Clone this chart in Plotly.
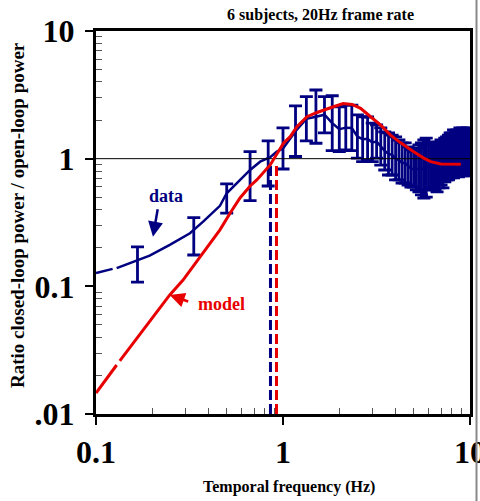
import plotly.graph_objects as go

# ---------------- data ----------------
# error-bar frequencies: k/6 Hz, k = 1..60
data_freq = [k / 6 for k in range(1, 61)]
data_hi = [0.204, 0.345, 0.634, 1.135, 1.38, 1.74, 2.59, 3.06, 3.45, 3.06,
           3.11, 2.55, 2.63, 2.63, 2.20, 2.13, 2.12, 1.90, 1.84, 1.74,
           1.62, 1.59, 1.53, 1.48, 1.40, 1.33, 1.33, 1.235, 1.17, 1.13,
           1.21, 1.28, 1.33, 1.40, 1.45, 1.35, 1.28, 1.33, 1.35, 1.28,
           1.35, 1.40, 1.35, 1.45, 1.48, 1.53, 1.59, 1.59, 1.68, 1.62,
           1.68, 1.65, 1.74, 1.68, 1.74, 1.70, 1.65, 1.74, 1.68, 1.70]
data_lo = [0.108, 0.176, 0.374, 0.469, 0.611, 0.83, 1.04, 1.38, 1.32, 1.59,
           1.155, 1.135, 1.17, 1.155, 1.01, 0.947, 0.97, 0.947, 1.01, 0.89,
           0.815, 0.745, 0.745, 0.681, 0.681, 0.645, 0.645, 0.622, 0.60, 0.60,
           0.569, 0.549, 0.52, 0.492, 0.50, 0.569, 0.569, 0.59, 0.569, 0.549,
           0.59, 0.622, 0.59, 0.657, 0.681, 0.681, 0.706, 0.719, 0.706, 0.732,
           0.745, 0.719, 0.759, 0.787, 0.732, 0.77, 0.745, 0.787, 0.732, 0.759]
data_mean = [0.148, 0.246, 0.487, 0.73, 0.918, 1.20, 1.64, 2.05, 2.13, 2.21,
             1.90, 1.70, 1.75, 1.74, 1.49, 1.42, 1.43, 1.34, 1.36, 1.24,
             1.15, 1.09, 1.07, 1.00, 0.976, 0.926, 0.926, 0.876, 0.838, 0.823,
             0.83, 0.838, 0.832, 0.83, 0.851, 0.876, 0.853, 0.886, 0.876, 0.838,
             0.892, 0.933, 0.892, 0.976, 1.00, 1.02, 1.06, 1.07, 1.09, 1.09,
             1.12, 1.09, 1.15, 1.15, 1.13, 1.14, 1.11, 1.17, 1.11, 1.14]

# smooth low-frequency part of the data curve (None = break in the line)
line_low_x = [0.1, 0.1227, None, 0.129, 0.1675, 0.1936, 0.248, 0.318, 0.374,
              0.46, 0.50, 0.542, 0.667, 0.755, 0.854, 0.927]
line_low_y = [0.127, 0.137, None, 0.139, 0.161, 0.174, 0.211, 0.2605, 0.321,
              0.427, 0.536, 0.604, 0.816, 0.947, 1.026, 1.135]

model_x = [0.1, 0.129, None, 0.134, 0.248, 0.292, 0.46, 0.521, 0.589, 0.667,
           0.724, 0.854, 1.006, 1.093, 1.187, 1.343, 1.52, 1.86, 2.10, 2.34,
           2.60, 2.94, 3.32, 3.76, 4.26, 5.0, 5.66, 6.17, 6.98, 8.93]
model_y = [0.0146, 0.0242, None, 0.0261, 0.0857, 0.112, 0.277, 0.3735, 0.492, 0.611,
           0.681, 0.893, 1.32, 1.487, 1.78, 2.13, 2.30, 2.55, 2.70, 2.66,
           2.48, 2.13, 1.84, 1.53, 1.33, 1.135, 1.01, 0.947, 0.909, 0.904]

cutoff_data = 0.857
cutoff_model = 0.923
cutoff_top = 0.9

y_tickvals = [0.01, 0.1, 1, 10]
y_ticktext = [".01", "0.1", "1", "10"]
x_tickvals = [0.1, 1, 10]
x_ticktext = ["0.1", "1", "10"]
minor_x = [m * d for d in (0.1, 1) for m in range(2, 10)]
minor_y = [m * d for d in (0.01, 0.1, 1) for m in range(2, 10)]

NAVY = "#000080"
RED = "#E80000"
FONT = "Liberation Serif"

fig = go.Figure()

# error bars
fig.add_trace(go.Scatter(
    x=data_freq, y=data_mean, mode="markers",
    marker=dict(size=1, color="rgba(0,0,0,0)"),
    error_y=dict(type="data", symmetric=False,
                 array=[h - m for h, m in zip(data_hi, data_mean)],
                 arrayminus=[m - l for l, m in zip(data_lo, data_mean)],
                 color=NAVY, thickness=2.8, width=6.5),
    showlegend=False, hoverinfo="skip"))

# data curve
fig.add_trace(go.Scatter(
    x=line_low_x + data_freq[5:], y=line_low_y + data_mean[5:],
    mode="lines", line=dict(color=NAVY, width=2.5), connectgaps=False,
    showlegend=False))

# vertical dashed cutoff lines
fig.add_trace(go.Scatter(x=[cutoff_data, cutoff_data], y=[0.01, cutoff_top], mode="lines",
                         line=dict(color=NAVY, width=3, dash="10px,4px"), showlegend=False))
fig.add_trace(go.Scatter(x=[cutoff_model, cutoff_model], y=[0.01, cutoff_top], mode="lines",
                         line=dict(color=RED, width=3, dash="10px,4px"), showlegend=False))

# unity line
fig.add_trace(go.Scatter(x=[0.1, 10], y=[1, 1], mode="lines",
                         line=dict(color="black", width=1), showlegend=False))

# model curve
fig.add_trace(go.Scatter(x=model_x, y=model_y, mode="lines", connectgaps=False,
                         line=dict(color=RED, width=3), showlegend=False))

axis_common = dict(
    type="log", showgrid=False, zeroline=False,
    showline=True, linecolor="black", linewidth=3, mirror=True,
    ticks="outside", ticklen=8, tickwidth=1.5, tickcolor="black",
    ticklabeloverflow="allow",
    tickfont=dict(family=FONT, size=32, color="black", weight="bold"),
)

fig.update_xaxes(**axis_common, range=[-1, 1], tickvals=x_tickvals, ticktext=x_ticktext,
                 minor=dict(tickvals=minor_x, ticks="inside", ticklen=6,
                            tickwidth=1.2, tickcolor="#555"))
fig.update_yaxes(**axis_common, range=[-2, 1], tickvals=y_tickvals, ticktext=y_ticktext,
                 ticklabelstandoff=4,
                 minor=dict(tickvals=minor_y, ticks="inside", ticklen=6,
                            tickwidth=1.2, tickcolor="#555"))

ann_font = dict(family=FONT, weight="bold")
fig.update_layout(
    width=480, height=501,
    margin=dict(l=96, r=10, t=31, b=87, autoexpand=False),
    plot_bgcolor="white", paper_bgcolor="white",
    annotations=[
        dict(text="6 subjects, 20Hz frame rate", xref="paper", yref="paper",
             x=0.599, y=1.042, xanchor="center", yanchor="middle", showarrow=False,
             font=dict(size=16, color="black", **ann_font)),
        dict(text="Temporal frequency (Hz)", xref="paper", yref="paper",
             x=0.516, y=-0.19, xanchor="center", yanchor="middle", showarrow=False,
             font=dict(size=16, color="black", **ann_font)),
        dict(text="Ratio closed-loop power / open-loop power", xref="paper", yref="paper",
             x=-0.208, y=0.52, xanchor="center", yanchor="middle", textangle=-90,
             showarrow=False, font=dict(size=19, color="black", **ann_font)),
        dict(text="data", xref="paper", yref="paper", x=0.188, y=0.569,
             xanchor="center", yanchor="middle", showarrow=False,
             font=dict(size=18, color=NAVY, **ann_font)),
        dict(text="", xref="paper", yref="paper", x=0.1523, y=0.463, ax=5, ay=-29,
             showarrow=True, arrowhead=2, arrowsize=1.2, arrowwidth=2.5, arrowcolor=NAVY),
        dict(text="model", xref="paper", yref="paper", x=0.3357, y=0.287,
             xanchor="center", yanchor="middle", showarrow=False,
             font=dict(size=18, color=RED, **ann_font)),
        dict(text="", xref="paper", yref="paper", x=0.197, y=0.3107, ax=20, ay=7,
             showarrow=True, arrowhead=2, arrowsize=1.2, arrowwidth=2.5, arrowcolor=RED),
    ],
    shapes=[dict(type="line", xref="paper", yref="paper", x0=1.0174, x1=1.0174,
                 y0=-0.23, y1=1.09, line=dict(color="#888", width=2))],
)

fig.write_html("out.html", config={"displayModeBar": False},
               post_script="document.body.style.margin='0';"
                           "document.body.style.overflow='hidden';")
